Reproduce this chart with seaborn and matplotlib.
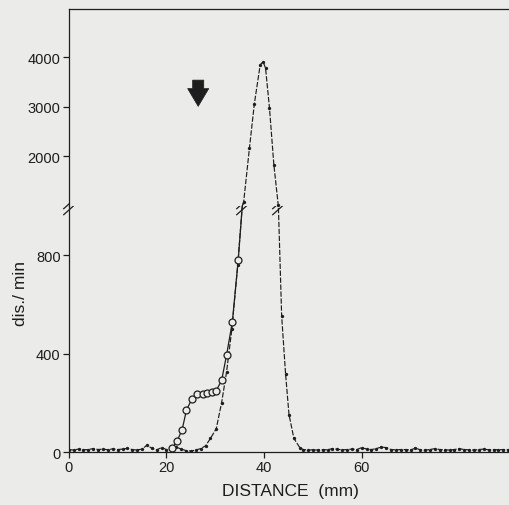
import numpy as np
import pandas as pd
import matplotlib
matplotlib.use('Agg')
import matplotlib.pyplot as plt
import seaborn as sns
from matplotlib.transforms import ScaledTranslation

# dotted trace (small dots) - distance in mm, dis./min
dot_x = list(range(0, 30)) + [30.2, 31.3, 32.3, 33.4, 34.6, 35.8, 37.0, 38.0, 39.2, 39.8,
                               40.3, 41.1, 42.0, 42.9, 43.6, 44.4, 45.1, 46.1, 47.3] + list(range(48, 91))
dot_y = [10, 8, 12, 9, 10, 14, 10, 12, 9, 13, 10, 12, 15, 10, 8, 12, 28, 15, 9, 18,
         10, 14, 20, 12, 6, 4, 8, 14, 25, 55,
         95, 201, 324, 500, 760, 1070, 2170, 3060, 3850, 3910,
         3780, 2980, 1830, 1015, 552, 317, 152, 56, 18,
         10, 8, 9, 8, 10, 9, 14, 11, 9, 10, 12, 10, 18, 12, 10, 14, 20, 18, 10, 9,
         10, 10, 8, 16, 9, 8, 10, 14, 10, 9, 8, 10, 14, 10, 9, 8, 10, 12, 9, 10,
         9, 10, 10]

# open circle trace
circ_x = [21.2, 22.2, 23.2, 24.1, 25.2, 26.3, 27.4, 28.4, 29.3, 30.2, 31.3, 32.3, 33.5, 34.7, 35.8]
circ_y = [16, 46, 90, 171, 215, 235, 236, 239, 242, 250, 291, 393, 529, 781, 1070]

low_ticks = [0, 400, 800]
high_ticks = [2000, 3000, 4000]
x_ticks = [0, 20, 40, 60]

dots = pd.DataFrame({'x': dot_x, 'y': dot_y})
circ = pd.DataFrame({'x': circ_x, 'y': circ_y})

sns.set_style('ticks')
plt.rcParams['font.family'] = ['Liberation Sans', 'DejaVu Sans']
ink = '#1e1e1e'
paper = '#ebebe9'

fig = plt.figure(figsize=(5.1, 5.06), dpi=100, facecolor=paper)
ax_lo = fig.add_axes([0.135, 0.1047, 0.87, 0.4863])
ax_hi = fig.add_axes([0.135, 0.5910, 0.87, 0.3893], sharex=ax_lo)

for ax in (ax_lo, ax_hi):
    ax.set_facecolor(paper)
    sns.lineplot(data=dots, x='x', y='y', ax=ax, estimator=None, sort=False,
                 color=ink, lw=0.85, dashes=False, linestyle=(0, (4.5, 1.4)),
                 marker='o', markersize=2.4, markeredgewidth=0, markerfacecolor=ink)
    sns.lineplot(data=circ, x='x', y='y', ax=ax, estimator=None, sort=False,
                 color=ink, lw=0.9, marker='o', markersize=5.0,
                 markerfacecolor=paper, markeredgecolor=ink, markeredgewidth=0.9,
                 markevery=list(range(len(circ_x) - 1)))
    ax.set_xlabel('')
    ax.set_ylabel('')
    for s in ax.spines.values():
        s.set_color(ink)
        s.set_linewidth(0.9)
    ax.spines['right'].set_visible(False)
    ax.tick_params(colors=ink, labelsize=10.5, length=4, width=0.9, pad=2)

ax_lo.set_xlim(0, 90.9)
ax_lo.set_ylim(0, 1000)
ax_lo.set_yticks(low_ticks)
ax_lo.set_xticks(x_ticks)
ax_lo.spines['top'].set_visible(False)

ax_hi.set_ylim(1000, 4976)
ax_hi.set_yticks(high_ticks)
ax_hi.spines['bottom'].set_visible(False)
ax_hi.tick_params(axis='x', bottom=False, labelbottom=False)

ax_lo.set_xlabel('DISTANCE  (mm)', fontsize=12.5, color=ink, labelpad=6)
fig.text(0.04, 0.42, 'dis./ min', rotation=90, fontsize=12.5, color=ink,
         ha='center', va='center')

# arrow marking the application point
ax_hi.annotate('', xy=(26.5, 3010), xytext=(26.5, 3540),
               arrowprops=dict(arrowstyle='simple,head_length=0.8,head_width=0.95,tail_width=0.5',
                               fc=ink, ec=ink, lw=0.5, mutation_scale=16, shrinkA=0, shrinkB=0))

# scale break marks on the axis and on both flanks of the peak
left_cross = np.interp(1000, dot_y[30:36], dot_x[30:36])
right_cross = np.interp(1000, dot_y[41:45][::-1], dot_x[41:45][::-1])
for bx in (0, left_cross, right_cross):
    for dy in (-2.2, 2.2):
        tr = ax_lo.transData + ScaledTranslation(0, dy / 72, fig.dpi_scale_trans)
        ax_lo.plot([bx], [1000], transform=tr, marker=[(-1, -0.9), (1, 0.9)],
                   markersize=9, markeredgewidth=0.9, color=ink, clip_on=False)

fig.savefig('out.png', dpi=100, facecolor=paper)
